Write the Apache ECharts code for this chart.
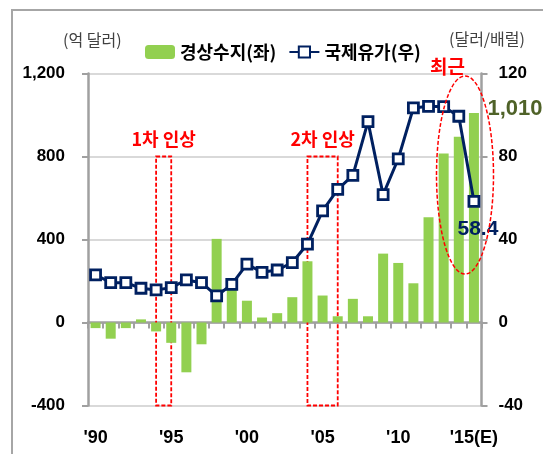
<!DOCTYPE html>
<html>
<head>
<meta charset="utf-8">
<script src="https://cdn.jsdelivr.net/npm/echarts@6/dist/echarts.min.js"></script>
<style>
html,body{margin:0;padding:0;background:#fff;}
#chart{width:543px;height:454px;}
</style>
</head>
<body>
<div id="chart"></div>
<script>
// ---- data ----
const years = ['1990','1991','1992','1993','1994','1995','1996','1997','1998','1999',
  '2000','2001','2002','2003','2004','2005','2006','2007','2008','2009',
  '2010','2011','2012','2013','2014','2015'];
const xTickLabels = ["'90", "'95", "'00", "'05", "'10", "'15(E)"];
const currentAccount = [-27, -78, -27, 15, -43, -98, -240, -105, 403, 210,
  105, 24, 45, 122, 295, 130, 30, 114, 30, 332,
  287, 189, 507, 815, 895, 1010];
const oilPrice = [23.0, 19.2, 19.2, 16.5, 15.7, 16.8, 20.5, 19.2, 12.8, 18.4,
  28.1, 24.2, 25.3, 28.9, 37.8, 53.8, 64.2, 70.9, 96.8, 61.6,
  78.9, 103.4, 104.2, 104.0, 99.4, 58.4];
const leftTicks = {min: -400, max: 1200, interval: 400};
const rightTicks = {min: -40, max: 120, interval: 40};
const hikeBoxes = [
  {label: '1차 인상', from: '1994', to: '1995'},
  {label: '2차 인상', from: '2004', to: '2006'}
];
const seriesNames = ['경상수지(좌)', '국제유가(우)'];

// ---- chart ----
const NUM = '"Liberation Sans Narrow", "Liberation Sans", Arial, sans-serif';
const KR = '"Noto Sans CJK KR", "Noto Sans", sans-serif';
const AXIS_GRAY = '#a0a0a0';
const chart = echarts.init(document.getElementById('chart'), null, {renderer: 'canvas'});

const lastIdx = years.length - 1;
const barData = currentAccount.map((v, i) => i === lastIdx ? {
  value: v,
  label: {show: true, position: 'top', offset: [41, 12], formatter: (p) => p.value.toLocaleString('en-US'),
    color: '#4f6228', fontFamily: NUM, fontWeight: 'bold', fontSize: 22}
} : v);
const lineData = oilPrice.map((v, i) => i === lastIdx ? {
  value: v,
  label: {show: true, position: 'bottom', offset: [4, 6], formatter: (p) => p.value.toFixed(1),
    color: '#002060', fontFamily: NUM, fontWeight: 'bold', fontSize: 21}
} : v);

const option = {
  animation: false,
  backgroundColor: '#fff',
  grid: {left: 88, right: 61.5, top: 73.5, height: 332, containLabel: false},
  legend: {
    data: seriesNames,
    left: 140, top: 38,
    itemWidth: 30, itemHeight: 14, itemGap: 12,
    textStyle: {fontFamily: KR, fontWeight: 'bold', fontSize: 18, color: '#000'}
  },
  xAxis: [{
    type: 'category', data: years, boundaryGap: true,
    axisLine: {onZero: true, lineStyle: {color: AXIS_GRAY, width: 2.5}},
    axisTick: {show: true, interval: 0, length: 6, lineStyle: {color: AXIS_GRAY, width: 2}},
    axisLabel: {show: false}, splitLine: {show: false}
  }, {
    type: 'category', data: years, position: 'bottom', boundaryGap: true,
    axisLine: {show: false, onZero: false}, axisTick: {show: false},
    axisLabel: {interval: 0, margin: 24, fontFamily: NUM, fontWeight: 'bold', fontSize: 18, color: '#000',
      formatter: (v, i) => i % 5 === 0 ? xTickLabels[i / 5] : ''}
  }],
  yAxis: [{
    type: 'value', position: 'left', min: leftTicks.min, max: leftTicks.max, interval: leftTicks.interval,
    axisLine: {show: true, lineStyle: {color: AXIS_GRAY, width: 2.5}},
    axisTick: {show: true, length: 6, lineStyle: {color: AXIS_GRAY, width: 2}},
    axisLabel: {margin: 23, fontFamily: NUM, fontWeight: 'bold', fontSize: 17, color: '#000',
      formatter: (v) => v.toLocaleString('en-US')},
    splitLine: {show: true, lineStyle: {color: '#d9d9d9', width: 2}}
  }, {
    type: 'value', position: 'right', min: rightTicks.min, max: rightTicks.max, interval: rightTicks.interval,
    axisLine: {show: true, lineStyle: {color: AXIS_GRAY, width: 2.5}},
    axisTick: {show: true, length: 6, lineStyle: {color: AXIS_GRAY, width: 2}},
    axisLabel: {margin: 17, fontFamily: NUM, fontWeight: 'bold', fontSize: 17, color: '#000'},
    splitLine: {show: false}
  }],
  series: [{
    name: seriesNames[0], type: 'bar', xAxisIndex: 0, yAxisIndex: 0,
    data: barData, barWidth: 10,
    itemStyle: {color: '#92d050'}, z: 2
  }, {
    name: seriesNames[1], type: 'line', xAxisIndex: 0, yAxisIndex: 1,
    data: lineData,
    lineStyle: {color: '#002060', width: 3},
    symbol: 'rect', symbolSize: 10,
    itemStyle: {color: '#fff', borderColor: '#002060', borderWidth: 2.8},
    z: 3
  }, {
    name: 'boxes', type: 'line', xAxisIndex: 0, yAxisIndex: 0, data: [], z: 10,
    markArea: {
      silent: true,
      itemStyle: {color: 'rgba(0,0,0,0)', borderColor: '#ff0000', borderWidth: 1.8, borderType: [4, 2]},
      label: {show: true, position: 'top', distance: 7, color: '#ff0000', fontFamily: KR, fontWeight: 'bold', fontSize: 18},
      data: hikeBoxes.map(b => [{name: b.label, xAxis: b.from, yAxis: 800}, {xAxis: b.to, yAxis: -400}])
    }
  }],
  graphic: [
    {type: 'rect', shape: {x: 12, y: 10, width: 560, height: 480}, style: {fill: 'none', stroke: '#a6a6a6', lineWidth: 2}, z: 0, silent: true},
    {type: 'text', left: 63, top: 32, style: {text: '(억 달러)', font: '16px "Noto Sans CJK KR"', fill: '#404040'}},
    {type: 'text', left: 449, top: 31, style: {text: '(달러/배럴)', font: '16px "Noto Sans CJK KR"', fill: '#404040'}},
    {type: 'text', left: 430, top: 57, style: {text: '최근', font: 'bold 19px "Noto Sans CJK KR"', fill: '#ff0000'}, z: 20},
    {type: 'ellipse', shape: {cx: 465, cy: 175, rx: 28.5, ry: 99}, style: {fill: 'none', stroke: '#ff0000', lineWidth: 1.5, lineDash: [4, 2]}, z: 20, silent: true}
  ]
};
chart.setOption(option);
</script>
</body>
</html>
